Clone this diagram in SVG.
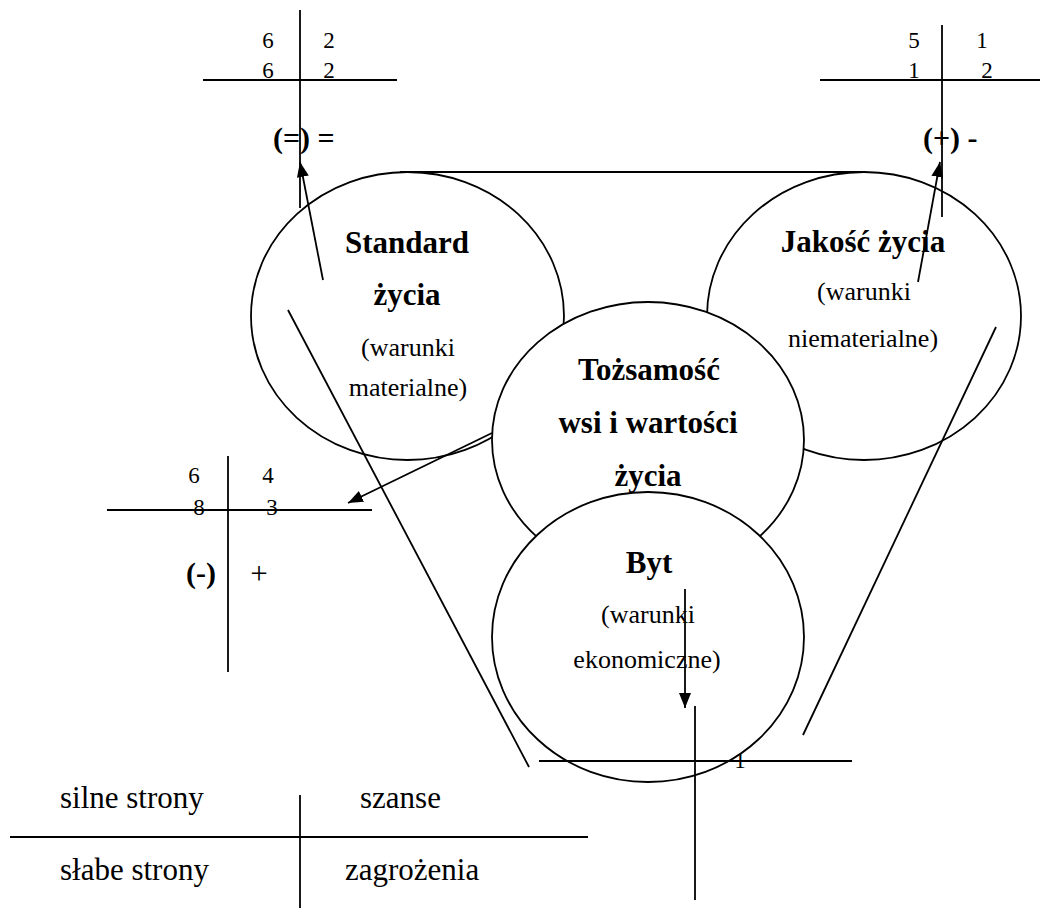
<svg xmlns="http://www.w3.org/2000/svg" width="1049" height="917" viewBox="0 0 1049 917">
<style>
.bg{fill:#fff}
.ell{fill:#fff;stroke:#000;stroke-width:1.8}
.ln{stroke:#000;stroke-width:1.8;fill:none}
.t{font-family:"Liberation Serif","Times New Roman",serif;fill:#000}
.b{font-weight:bold;font-size:31px;text-anchor:middle}
.r{font-size:26px;text-anchor:middle}
.d{font-size:23px;text-anchor:middle}
.p{font-size:31px;text-anchor:middle}
.lb{font-weight:bold;font-size:30px}
.lg{font-size:31px}
</style>
<defs>
<marker id="ah" viewBox="0 0 15 12" refX="15" refY="6" markerWidth="15" markerHeight="12" markerUnits="userSpaceOnUse" orient="auto">
<path d="M0,0 L15,6 L0,12 z" fill="#000"/>
</marker>
</defs>
<rect class="bg" x="0" y="0" width="1049" height="917"/>

<g id="node-standard">
<ellipse class="ell" cx="407.5" cy="316" rx="156.5" ry="144"/>
<text class="t b" x="407" y="253">Standard</text>
<text class="t b" x="407" y="305">życia</text>
<text class="t r" x="408" y="356">(warunki</text>
<text class="t r" x="408" y="396">materialne)</text>
</g>

<g id="node-jakosc">
<ellipse class="ell" cx="864" cy="316" rx="157" ry="144"/>
<text class="t b" x="863" y="252">Jakość życia</text>
<text class="t r" x="864" y="300">(warunki</text>
<text class="t r" x="863" y="347">niematerialne)</text>
</g>

<g id="node-tozsamosc">
<ellipse class="ell" cx="648" cy="440" rx="156" ry="138"/>
<text class="t b" x="649" y="380">Tożsamość</text>
<text class="t b" x="648" y="433">wsi i wartości</text>
<text class="t b" x="648" y="486">życia</text>
</g>

<g id="node-byt">
<ellipse class="ell" cx="648" cy="637" rx="156" ry="145"/>
<text class="t b" x="649" y="573">Byt</text>
<text class="t r" x="648" y="623">(warunki</text>
<text class="t r" x="647" y="668">ekonomiczne)</text>
</g>

<g id="cross-top-left">
<line class="ln" x1="203" y1="80" x2="397" y2="80"/>
<line class="ln" x1="300" y1="10" x2="300" y2="208"/>
<text class="t d" x="268" y="48">6</text>
<text class="t d" x="329" y="48">2</text>
<text class="t d" x="268" y="78">6</text>
<text class="t d" x="329" y="78">2</text>
<text class="t lb" x="273" y="148">(=) =</text>
</g>

<g id="cross-top-right">
<line class="ln" x1="820" y1="80" x2="1040" y2="80"/>
<line class="ln" x1="942" y1="25" x2="942" y2="217"/>
<text class="t d" x="914" y="48">5</text>
<text class="t d" x="982" y="48">1</text>
<text class="t d" x="914" y="78">1</text>
<text class="t d" x="987" y="78">2</text>
<text class="t lb" x="923" y="148">(+) -</text>
</g>

<g id="cross-left">
<line class="ln" x1="107" y1="510" x2="372" y2="510"/>
<line class="ln" x1="228" y1="456" x2="228" y2="672"/>
<text class="t d" x="194" y="483">6</text>
<text class="t d" x="268" y="483">4</text>
<text class="t d" x="199" y="515">8</text>
<text class="t d" x="272" y="515">3</text>
<text class="t lb" x="186" y="583">(-)</text>
<text class="t p" x="259" y="584">+</text>
</g>

<g id="cross-bottom">
<line class="ln" x1="539" y1="761" x2="852" y2="761"/>
<line class="ln" x1="695" y1="706" x2="695" y2="900"/>
<text class="t d" x="740" y="768">1</text>
</g>

<g id="legend">
<line class="ln" x1="10" y1="837" x2="588" y2="837"/>
<line class="ln" x1="300" y1="795" x2="300" y2="908"/>
<text class="t lg" x="60" y="808">silne strony</text>
<text class="t lg" x="360" y="808">szanse</text>
<text class="t lg" x="60" y="880">słabe strony</text>
<text class="t lg" x="345" y="880">zagrożenia</text>
</g>

<g id="connectors">
<line class="ln" x1="400" y1="172" x2="862" y2="172"/>
<line class="ln" x1="288" y1="310" x2="529" y2="767"/>
<line class="ln" x1="996" y1="327" x2="803" y2="735"/>
<line class="ln" x1="323" y1="280" x2="300" y2="162" marker-end="url(#ah)"/>
<line class="ln" x1="918" y1="282" x2="940" y2="162" marker-end="url(#ah)"/>
<line class="ln" x1="492" y1="433" x2="348" y2="503" marker-end="url(#ah)"/>
<line class="ln" x1="685" y1="589" x2="685" y2="708" marker-end="url(#ah)"/>
</g>
</svg>
